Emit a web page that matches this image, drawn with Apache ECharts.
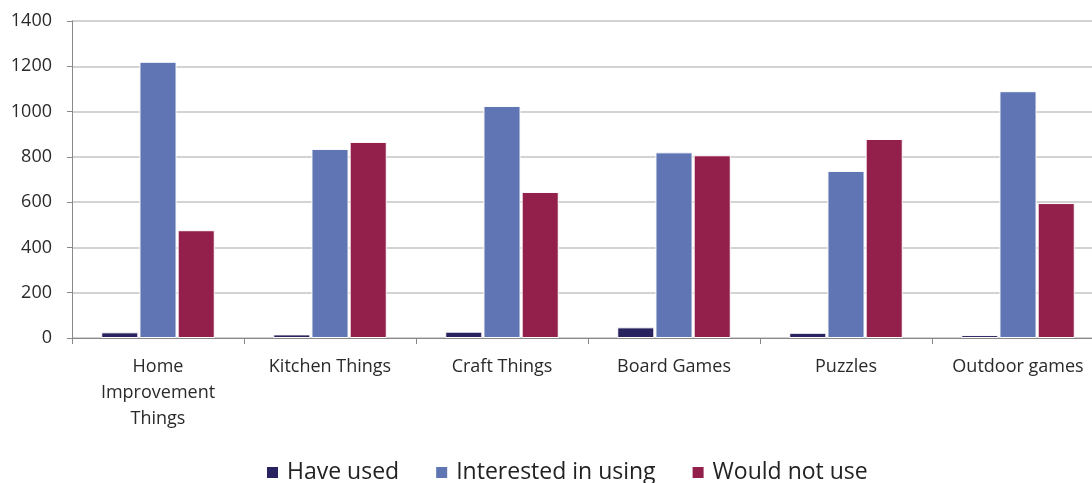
<!DOCTYPE html>
<html>
<head>
<meta charset="utf-8">
<script src="https://cdn.jsdelivr.net/npm/echarts@6/dist/echarts.min.js"></script>
<style>
  html, body { margin: 0; padding: 0; background: #fff; }
  #chart { width: 1092px; height: 483px; }
</style>
</head>
<body>
<div id="chart"></div>
<script>
// categories and values
const categories = ['Home\nImprovement\nThings', 'Kitchen Things', 'Craft Things', 'Board Games', 'Puzzles', 'Outdoor games'];
const haveUsed = [25, 16, 28, 47, 23, 13];
const interested = [1220, 835, 1025, 820, 738, 1090];
const wouldNot = [476, 866, 645, 807, 879, 596];

const FONT = 'Open Sans';

const chart = echarts.init(document.getElementById('chart'));

function bar(name, data, color) {
    return {
        name: name,
        type: 'bar',
        data: data,
        barGap: '3%',
        barCategoryGap: '34%',
        itemStyle: { color: color, borderColor: '#fff', borderWidth: 1 },
        emphasis: { disabled: true }
    };
}

chart.setOption({
    animation: false,
    textStyle: { fontFamily: FONT },
    // plot runs past the right edge in the original, so width is set directly
    grid: { left: 72, width: 1032, top: 21, bottom: 145, outerBoundsMode: 'none' },
    legend: {
        top: 456,
        left: 260,
        itemWidth: 13,
        itemHeight: 13,
        itemGap: 35,
        icon: 'rect',
        textStyle: { fontSize: 23, color: '#222', fontFamily: FONT, padding: [0, 0, 0, 3] }
    },
    xAxis: {
        type: 'category',
        data: categories,
        axisLine: { lineStyle: { color: '#888', width: 1 } },
        axisTick: { show: true, length: 6, lineStyle: { color: '#888' } },
        axisLabel: { fontSize: 18, color: '#2a2a2a', margin: 16, lineHeight: 26, interval: 0 }
    },
    yAxis: {
        type: 'value',
        min: 0,
        max: 1400,
        interval: 200,
        axisLine: { show: true, lineStyle: { color: '#888', width: 1 } },
        axisTick: { show: true, length: 5, lineStyle: { color: '#888' } },
        axisLabel: { fontSize: 18, color: '#2a2a2a', margin: 20, formatter: v => String(v) },
        splitLine: { lineStyle: { color: '#c4c4c4', width: 1.5 } }
    },
    series: [
        bar('Have used', haveUsed, '#28235f'),
        bar('Interested in using', interested, '#6076b4'),
        bar('Would not use', wouldNot, '#93204b')
    ]
});
</script>
</body>
</html>
